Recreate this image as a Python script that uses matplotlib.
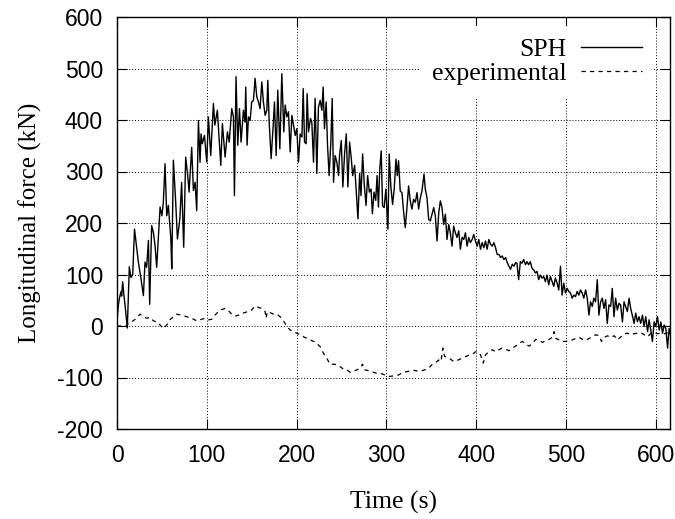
import numpy as np
import matplotlib
matplotlib.use('Agg')
import matplotlib.pyplot as plt

plt.rcParams['axes.unicode_minus'] = False

# SPH longitudinal force (time s, force kN)
sph_t = [0, 1.5, 2.6, 4.5, 5.2, 6.3, 7.4, 9, 11.5, 13.7, 15.5, 17.5, 19.5, 22, 23.8,
         26.8, 29.4, 31.2, 33, 35, 36.4, 38.6, 40.5, 42.4, 44.2, 46, 48, 50, 51.6, 53.5,
         55.4, 57.2, 60, 61, 62.8, 65.4, 67.3, 70, 72, 74.3, 76.5, 78.8, 80.3, 83.2, 85.1,
         87, 88.8, 90.7, 92.5, 93.6, 95, 97.4, 100, 101.8, 104.4, 107.4, 109, 111.8, 115.6,
         117.4, 120.4, 123, 125, 127.8, 129.7, 130.8, 132.6, 134.5, 136.4, 138.2, 140.8,
         142.6, 143.4, 144.9, 146.4, 148.3, 150, 152, 153.8, 155.7, 157.6, 159.4, 161.3,
         163.1, 165, 166.9, 168, 169.5, 171.7, 174, 175.4, 177.3, 179.1, 181.4, 183.6,
         185.8, 187.3, 189.2, 191, 192.9, 194.8, 196.6, 198.5, 200.3, 202.2, 204, 206,
         207.4, 208.9, 210.7, 211.8, 213.3, 215.5, 217, 218.9, 220.7, 222.6, 224.4, 226.3,
         228.2, 229.6, 231.1, 233, 234.5, 236.3, 238.2, 239.7, 241.2, 243, 244.9, 246.8,
         247.9, 249.8, 251.6, 253.5, 255.4, 257.2, 259.1, 261, 262.5, 264.7, 266.6, 268.4,
         270.3, 271.8, 273.6, 275.5, 277.4, 279.2, 281.1, 283, 284.5, 286.3, 288.2, 289.7,
         291.2, 292.7, 294.3, 295.8, 297.6, 299.5, 301.8, 303.2, 305, 307, 308.8, 310.7,
         312.2, 313.6, 315.5, 317.4, 319.2, 321.1, 323, 324.8, 326.7, 328.5, 330.4, 332.3,
         334.2, 336, 337.9, 339.7, 342, 343.4, 345.3, 347.2, 349, 350.9, 352.8, 354.6,
         356.5, 358.4, 360.2, 362, 363.9, 365.8, 367.6, 369.5, 371.3, 373.2, 375, 376.9,
         378.8, 380.7, 382.5, 384.4, 386.3, 388.1, 390, 391.8, 393.7, 395.6, 397.4, 399.3,
         401.2, 403, 404.9, 406.8, 408.6, 410.5, 412.3, 414.2, 416, 418, 419.8, 421.7,
         423.5, 425.4, 427.3, 429.1, 431, 432.9, 434.7, 436.6, 438.4, 440.3, 442.2, 444,
         445.5, 447.4, 449.3, 451, 453, 455, 456.7, 458.5, 460.4, 462.3, 464.2, 466,
         467.9, 469.7, 471.6, 473.5, 475.3, 477.2, 479, 480.9, 482.8, 484.7, 486.5, 488.4,
         490.3, 492.1, 494, 495.8, 497.7, 499.6, 501.4, 503.3, 505.2, 507, 508.9, 510.7,
         512.6, 514.5, 516.3, 518.2, 520, 522, 523.8, 525.7, 527.5, 529.4, 531.2, 533.1,
         535, 536.8, 538.7, 540.6, 542.4, 544.3, 546.1, 548, 549.9, 551.7, 553.6, 555.4,
         557.3, 559.2, 561, 563, 564.8, 566.6, 568.5, 570.4, 572.2, 574, 576, 577.8,
         579.7, 581.5, 583.4, 585.3, 587.1, 589, 591, 592.7, 594.6, 596.4, 598.3, 600.2,
         602, 604, 605.8, 607.7, 609.5, 611.4, 613.3, 615, 617]
sph_f = [10, 40, 53, 67, 58, 86, 65, 40, -4, 115, 94, 100, 188, 150, 124,
         91, 59, 124, 114, 166, 42, 195, 182, 156, 114, 169, 231, 214, 240, 315,
         214, 234, 169, 111, 322, 240, 169, 208, 279, 153, 328, 292, 260, 347, 263,
         279, 224, 399, 318, 373, 354, 370, 318, 406, 331, 432, 390, 419, 312,
         393, 328, 377, 357, 422, 406, 253, 484, 351, 422, 357, 419,
         396, 464, 351, 406, 399, 435, 438, 481, 445, 435, 422, 474,
         435, 409, 419, 477, 396, 325, 390, 435, 331, 458, 344, 490,
         377, 429, 406, 416, 338, 409, 390, 370, 383, 318, 373, 367,
         461, 357, 354, 451, 377, 403, 396, 318, 442, 296, 425, 438,
         419, 464, 383, 435, 351, 292, 357, 442, 279, 331, 318, 292,
         331, 360, 270, 334, 373, 270, 357, 325, 292, 312, 260, 208,
         296, 253, 334, 273, 234, 292, 260, 266, 218, 260, 244, 292,
         231, 305, 340, 233, 230, 266, 188, 334, 272, 236, 266, 324,
         292, 321, 262, 259, 223, 191, 230, 272, 243, 227, 246, 240,
         259, 227, 249, 262, 295, 266, 249, 207, 204, 217, 230, 214,
         165, 220, 243, 230, 197, 217, 168, 197, 181, 155, 194, 181,
         172, 185, 149, 172, 168, 181, 155, 172, 162, 168, 178, 165,
         155, 168, 149, 162, 152, 165, 149, 168, 159, 155, 162, 152,
         139, 139, 133, 136, 129, 133, 123, 116, 110, 120, 116, 123,
         122, 90, 125, 122, 129, 119, 125, 119, 125, 112, 109, 103,
         106, 90, 99, 93, 96, 86, 99, 80, 96, 86, 77, 93,
         83, 70, 116, 60, 83, 64, 73, 67, 64, 54, 60, 57,
         67, 60, 70, 64, 54, 70, 54, 21, 47, 38, 54, 47,
         90, 21, 47, 54, 34, 51, 5, 41, 38, 73, 18, 54,
         31, 44, 41, 8, 47, 38, 28, 54, 34, 21, 5, 25,
         8, 18, 5, 21, -1, 18, -11, 12, -8, -30, 8, -1,
         18, -8, 8, -14, 2, -5, -43, -5, -21]

# experimental longitudinal force
exp_t = [0, 11, 12.6, 16.3, 21.9, 25.6, 29.4, 33, 36.8, 40.5, 44.2, 48, 51.6, 55.4,
         59, 62.8, 66.5, 72, 77.7, 83.2, 88.8, 94.4, 98, 101.8, 105.5, 109, 113, 116.7,
         120.4, 124, 127.8, 131.5, 135.3, 139, 142.6, 146.4, 150, 153.8, 157.6, 161.3,
         165, 166, 167.6, 170.5, 174.3, 178, 181.7, 185.5, 189.2, 193, 196.6, 200.3,
         204, 207.8, 211.5, 215.2, 219, 222.6, 226.3, 230, 233.8, 237.5, 241.2, 245,
         248.6, 252.4, 256, 259.8, 263.5, 267.3, 271, 273.5, 275.5, 278.5, 282, 286,
         289.5, 293.3, 297, 302.5, 308, 313.7, 319, 325, 330.4, 336, 341.4, 347, 350.9,
         354.6, 358.4, 360.9, 363, 364.9, 367.5, 371.3, 375, 378.8, 382.5, 386.3, 390,
         393.7, 397.4, 399.3, 401.2, 404.9, 408, 410.5, 414.2, 418, 421.7, 425.4, 429,
         432.9, 436.6, 440.3, 444, 447.8, 451.5, 455.3, 459, 462.7, 466.5, 470.2, 474,
         477.7, 481.4, 485, 486.9, 488.8, 492.5, 496.3, 500, 503.7, 507.4, 511, 514.8,
         518.5, 522.3, 526, 529.7, 533.4, 537.2, 539.7, 542.7, 546.4, 550.1, 553.9,
         557.6, 561.3, 565, 568.8, 572.5, 576.2, 580, 583.7, 587.4, 591, 594.8, 598.6,
         602.3, 606, 609.8, 613.5]
exp_f = [0, 0, 5, 8, 15, 23, 19, 15, 17, 10, 8, 2, -5, 2,
         12, 18, 23, 21, 18, 15, 10, 13, 15, 12, 13, 21, 28, 32,
         34, 30, 23, 19, 21, 25, 26, 29, 31, 39, 36, 34,
         28, 15, 28, 26, 23, 23, 18, 10, -1, -8, -11, -14,
         -17, -21, -24, -27, -30, -34, -40, -53, -63, -75, -74, -75,
         -79, -84, -85, -90, -88, -85, -82, -74, -85, -86, -88, -90,
         -92, -92, -94, -98, -97, -95, -90, -88, -86, -88, -86, -82, -75,
         -72, -66, -69, -43, -59, -61, -64, -69, -67, -64, -61, -58,
         -56, -53, -50, -50, -56, -72, -56, -50, -46, -50, -46, -43,
         -45, -48, -43, -39, -34, -30, -35, -39, -34, -26, -28, -32,
         -28, -26, -22, -11, -24, -27, -30, -30, -28, -27, -24, -22,
         -26, -28, -24, -21, -17, -19, -30, -22, -19, -22, -19,
         -27, -21, -15, -14, -17, -15, -14, -13, -17, -21, -14, -13,
         -15, -14, -15, -13]

serif = 'Liberation Serif'
sans = 'Liberation Sans'

fig = plt.figure(figsize=(6.75, 5.19), dpi=100)
ax = fig.add_axes([117 / 675, 90 / 519, 553 / 675, 412 / 519])

ax.plot(sph_t, sph_f, color='black', lw=1.0, label='SPH')
ax.plot(exp_t, exp_f, color='black', lw=0.9, dashes=(3.4, 3.4), label='experimental')

ax.set_xlim(0, 616)
ax.set_ylim(-200, 600)
ax.set_xticks(np.arange(0, 601, 100))
ax.set_yticks(np.arange(-200, 601, 100))

ax.grid(True, color='black', lw=0.7, linestyle=(0, (1, 2)))
ax.tick_params(direction='in', length=7, width=0.8, top=True, right=True, labelsize=16.5)
ax.tick_params(axis='x', pad=11)
ax.tick_params(axis='y', pad=10)
for lab in ax.get_xticklabels() + ax.get_yticklabels():
    lab.set_family(sans)
for sp in ax.spines.values():
    sp.set_linewidth(1.0)

ax.set_xlabel('Time (s)', family=serif, fontsize=18.5, labelpad=17)
ax.set_ylabel('Longitudinal force (kN)', family=serif, fontsize=18, labelpad=11)

leg = ax.legend(loc='upper right', bbox_to_anchor=(0.971, 0.977), borderaxespad=0,
                markerfirst=False, frameon=True, fancybox=False, framealpha=1,
                edgecolor='none', facecolor='white', handlelength=2.4,
                handletextpad=0.55, labelspacing=0.05, borderpad=0.45,
                prop={'family': serif, 'size': 18.5})

fig.savefig('out.png', dpi=100)
